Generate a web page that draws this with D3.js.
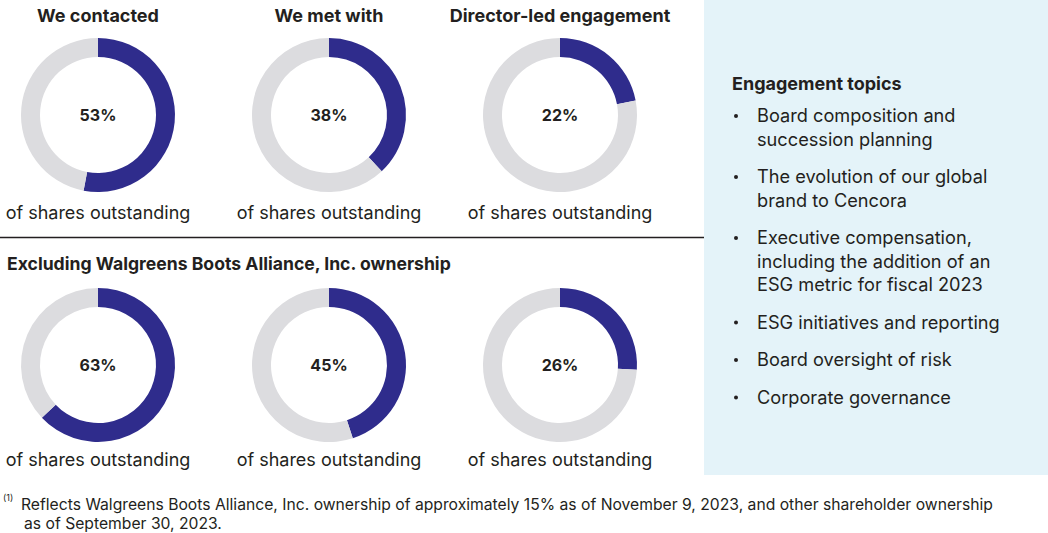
<!DOCTYPE html>
<html>
<head>
<meta charset="utf-8">
<script src="https://cdn.jsdelivr.net/npm/d3@7"></script>
<style>
  html, body { margin: 0; padding: 0; background: #fff; }
  svg { display: block; font-family: "Inter", "Open Sans", sans-serif; }
</style>
</head>
<body>
<svg id="chart" width="1048" height="533"></svg>
<script>
// chart values
const columnTitles = ["We contacted", "We met with", "Director-led engagement"];
const allShares = [53, 38, 22];
const exWalgreens = [63, 45, 26];
const rowCaption = "of shares outstanding";
const sectionTitle = "Excluding Walgreens Boots Alliance, Inc. ownership";
const topicsTitle = "Engagement topics";
const topics = [
    ["Board composition and", "succession planning"],
    ["The evolution of our global", "brand to Cencora"],
    ["Executive compensation,", "including the addition of an", "ESG metric for fiscal 2023"],
    ["ESG initiatives and reporting"],
    ["Board oversight of risk"],
    ["Corporate governance"]
];
const footnote = [
    "Reflects Walgreens Boots Alliance, Inc. ownership of approximately 15% as of November 9, 2023, and other shareholder ownership",
    "as of September 30, 2023."
];

const navy = "#2f2c8c",
    grey = "#dcdcdf",
    ink = "#231f20",
    panel = "#e4f3f9";

const outerR = 77,
    innerR = 58;

const svg = d3.select("#chart");

const x = d3.scaleLinear().domain([0, 2]).range([98, 560]);

const pie = d3.pie().sort(null).value(d => d);
const arc = d3.arc().innerRadius(innerR).outerRadius(outerR);

// right hand panel
svg.append("rect")
    .attr("x", 704).attr("y", 0)
    .attr("width", 344).attr("height", 475)
    .attr("fill", panel);

// divider
svg.append("line")
    .attr("x1", 0).attr("x2", 704)
    .attr("y1", 237.5).attr("y2", 237.5)
    .attr("stroke", ink).attr("stroke-width", 1.3);

function donutRow(values, cy, captionY) {
    const g = svg.append("g");
    values.forEach(function(v, i) {
        const d = g.append("g").attr("transform", "translate(" + x(i) + "," + cy + ")");
        d.selectAll("path")
            .data(pie([v, 100 - v]))
            .join("path")
            .attr("d", arc)
            .attr("fill", (p, j) => j === 0 ? navy : grey);
        d.append("text")
            .attr("text-anchor", "middle")
            .attr("dy", "0.36em")
            .attr("font-size", 16)
            .attr("font-weight", 700)
            .attr("fill", ink)
            .text(v + "%");
        g.append("text")
            .attr("x", x(i))
            .attr("y", captionY)
            .attr("text-anchor", "middle")
            .attr("font-size", 18)
            .attr("fill", ink)
            .text(rowCaption);
    });
}

// column titles
svg.selectAll("text.col-title")
    .data(columnTitles)
    .join("text")
    .attr("class", "col-title")
    .attr("x", (d, i) => x(i))
    .attr("y", 22)
    .attr("text-anchor", "middle")
    .attr("font-size", 18)
    .attr("font-weight", 700)
    .attr("fill", ink)
    .text(d => d);

donutRow(allShares, 115, 219);

svg.append("text")
    .attr("x", 7).attr("y", 270)
    .attr("font-size", 17.6)
    .attr("font-weight", 700)
    .attr("fill", ink)
    .text(sectionTitle);

donutRow(exWalgreens, 365, 466);

// topics list
svg.append("text")
    .attr("x", 732).attr("y", 90)
    .attr("font-size", 18)
    .attr("font-weight", 700)
    .attr("fill", ink)
    .text(topicsTitle);

const lineH = 23.5,
    gap = 14;
let ty = 122;
topics.forEach(function(lines) {
    svg.append("circle")
        .attr("cx", 736).attr("cy", ty - 6)
        .attr("r", 2)
        .attr("fill", ink);
    lines.forEach(function(l, k) {
        svg.append("text")
            .attr("x", 757).attr("y", ty + k * lineH)
            .attr("font-size", 18.2)
            .attr("fill", ink)
            .text(l);
    });
    ty += lines.length * lineH + gap;
});

// footnote
svg.append("text")
    .attr("x", 3).attr("y", 501)
    .attr("font-size", 9)
    .attr("fill", ink)
    .text("(1)");
footnote.forEach(function(l, i) {
    svg.append("text")
        .attr("x", i === 0 ? 21 : 24)
        .attr("y", 510 + i * 19)
        .attr("font-size", 15.7)
        .attr("fill", ink)
        .text(l);
});
</script>
</body>
</html>
